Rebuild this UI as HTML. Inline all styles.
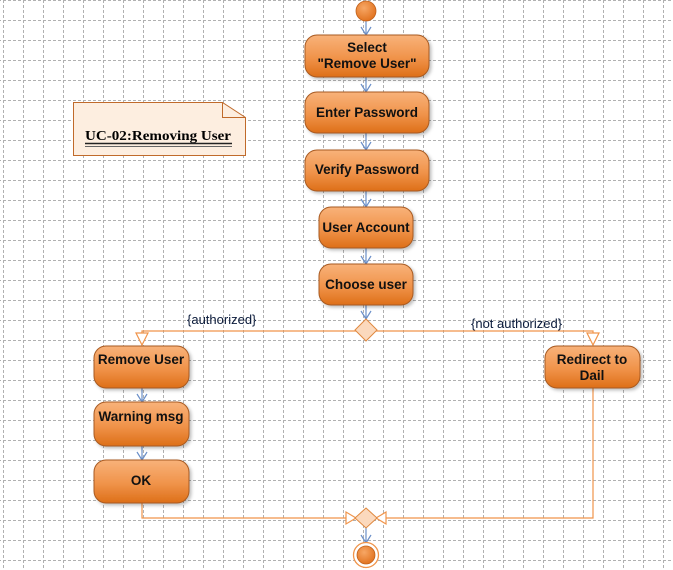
<!DOCTYPE html>
<html><head><style>
body{margin:0;width:673px;height:570px;overflow:hidden;background:#fff;}
svg{display:block}
text{font-family:"Liberation Sans",Arial,sans-serif;font-weight:bold;font-size:13.5px;fill:#111;}
</style></head><body>
<svg width="673" height="570" xmlns="http://www.w3.org/2000/svg">
<defs>
<pattern id="g" width="20" height="20" patternUnits="userSpaceOnUse" x="3" y="0">
<path d="M0 0.5H20M0.5 0V20" stroke="#b0b0b0" stroke-width="1" stroke-dasharray="3,2" fill="none"/>
</pattern>
<linearGradient id="o" x1="0" y1="0" x2="0" y2="1">
<stop offset="0" stop-color="#f8b27a"/><stop offset="0.55" stop-color="#f0934a"/><stop offset="1" stop-color="#dd6f18"/>
</linearGradient>
<radialGradient id="c" cx="0.4" cy="0.35" r="0.7"><stop offset="0" stop-color="#f7a765"/><stop offset="1" stop-color="#e0701c"/></radialGradient>
<filter id="s" x="-10%" y="-10%" width="130%" height="140%"><feDropShadow dx="2" dy="2" stdDeviation="1.5" flood-color="#000" flood-opacity="0.25"/></filter>
</defs>
<rect x="0" y="0" width="673" height="570" fill="url(#g)"/>

<g stroke="#6a8fc8" stroke-width="1.2" fill="none">
<path d="M366 21V35M361 27L366 35L371 27"/>
<path d="M366 77V92M361 84L366 92L371 84"/>
<path d="M366 133V150M361 142L366 150L371 142"/>
<path d="M366 191V207M361 199L366 207L371 199"/>
<path d="M366 248V264M361 256L366 264L371 256"/>
<path d="M366 305V319M361 311L366 319L371 311"/>
<path d="M142 388V402M137 394L142 402L147 394"/>
<path d="M142 446V460M137 452L142 460L147 452"/>
<path d="M366 528V543M361 535L366 543L371 535"/>
</g>

<g stroke="#f0944a" stroke-width="1.2" fill="none">
<path d="M356 331H142V333"/>
<path d="M376 331H593V333"/>
<path d="M142 503V518H346"/>
<path d="M593 388V518H386"/>
</g>
<g stroke="#f0944a" stroke-width="1.2" fill="#fff">
<path d="M136 333H148L142 345Z"/>
<path d="M587 333H599L593 345Z"/>
<path d="M346 512V524L356 518Z"/>
<path d="M386 512V524L376 518Z"/>
</g>
<path d="M366 319L377 330L366 341L355 330Z" fill="#fbd9bd" stroke="#e0883e"/>
<path d="M366 508L377 518L366 528L355 518Z" fill="#fbd9bd" stroke="#e0883e"/>

<circle cx="366" cy="11" r="10" fill="url(#c)" stroke="#c0601a" stroke-width="0.8"/>
<circle cx="366" cy="555" r="12.5" fill="#fff" stroke="#f0944a" stroke-width="1.3"/>
<circle cx="366" cy="555" r="9" fill="url(#c)" stroke="#c0601a" stroke-width="0.8"/>

<g fill="url(#o)" stroke="#a85a20" stroke-width="1" filter="url(#s)">
<rect x="305" y="35" width="124" height="42" rx="12"/>
<rect x="305" y="92" width="124" height="41" rx="12"/>
<rect x="305" y="150" width="124" height="41" rx="12"/>
<rect x="319" y="207" width="94" height="41" rx="12"/>
<rect x="319" y="264" width="94" height="41" rx="12"/>
<rect x="94" y="346" width="95" height="42" rx="12"/>
<rect x="94" y="402" width="95" height="44" rx="12"/>
<rect x="94" y="460" width="95" height="43" rx="12"/>
<rect x="545" y="346" width="95" height="42" rx="12"/>
</g>
<g text-anchor="middle">
<text x="367" y="52">Select</text>
<text x="367" y="68">"Remove User"</text>
<text x="367" y="117">Enter Password</text>
<text x="367" y="174">Verify Password</text>
<text x="366" y="232">User Account</text>
<text x="366" y="289">Choose user</text>
<text x="141" y="364">Remove User</text>
<text x="141" y="421">Warning msg</text>
<text x="141" y="485">OK</text>
<text x="592" y="364">Redirect to</text>
<text x="592" y="380">Dail</text>
</g>
<text x="187" y="324" style="font-weight:normal;font-size:13px;fill:#0a1a3a">{authorized}</text>
<text x="471" y="328" style="font-weight:normal;font-size:13px;fill:#0a1a3a">{not authorized}</text>

<path d="M73.5 102.5H222.5L245.5 117.5V155.5H73.5Z" fill="#fdeee0" stroke="#c06a2a"/>
<path d="M222.5 102.5V117.5H245.5" fill="none" stroke="#c06a2a"/>
<text x="85" y="140" style="font-family:'Liberation Serif',serif;font-size:14px;fill:#000" textLength="146" lengthAdjust="spacingAndGlyphs">UC-02:Removing User</text>
<path d="M85 143.5H232" stroke="#222" stroke-width="1.5"/>
<path d="M85 146.5H232" stroke="#666" stroke-width="1"/>
</svg>
</body></html>
